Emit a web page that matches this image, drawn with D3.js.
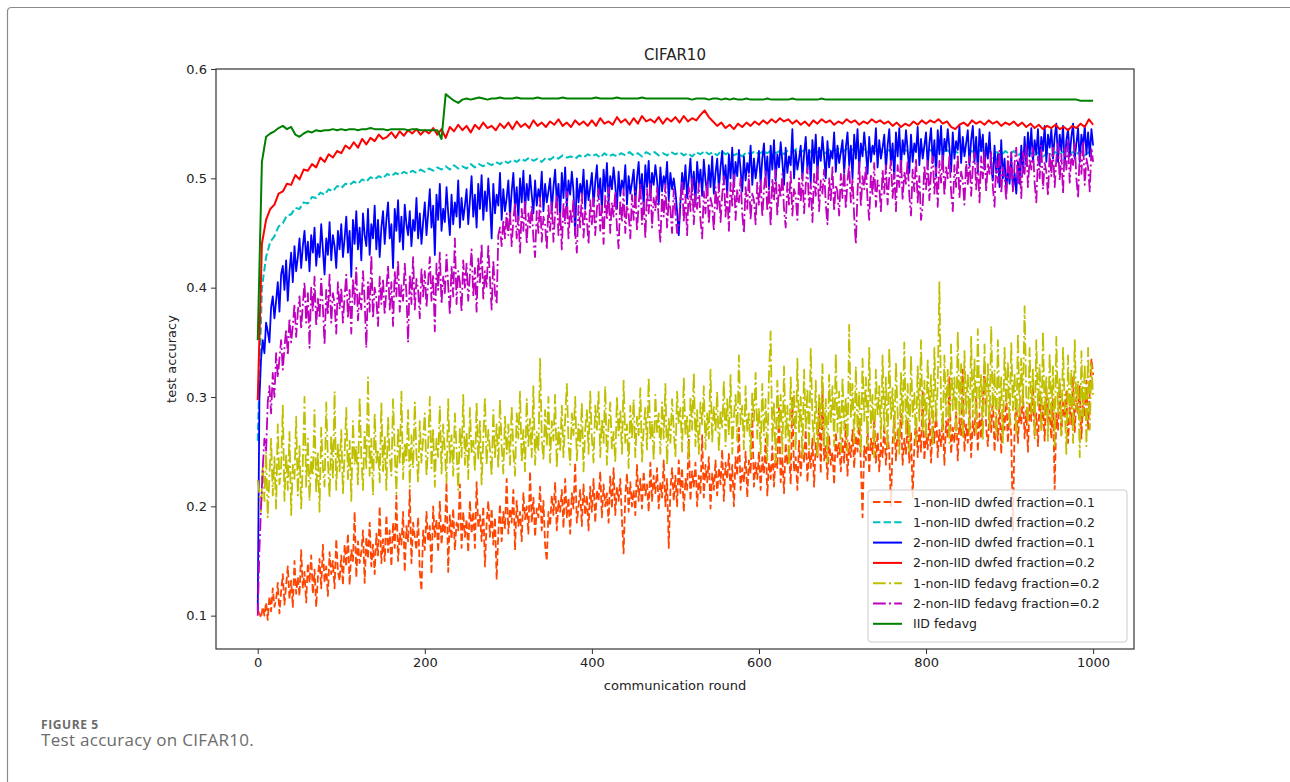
<!DOCTYPE html>
<meta charset="utf-8">
<style>
body {
  margin: 0;
  background: #fff;
}
svg text {
  font-family: "DejaVu Sans", sans-serif;
  fill: #222;
}
.caption text {
  font-family: "Open Sans", Lato, sans-serif;
  fill: #6b6b6b;
}
</style>
<body>
<script src="https://d3js.org/d3.v7.min.js"></script>
<script>
// noisy runs are read every 2 rounds, smooth ones every 5 rounds (0..1000)
var roundsFine = d3.range(0, 1001, 2);
var roundsCoarse = d3.range(0, 1001, 5);

var xTicks = [0, 200, 400, 600, 800, 1000];
var yTicks = [0.1, 0.2, 0.3, 0.4, 0.5, 0.6];

var labels = [
  "1-non-IID dwfed fraction=0.1",
  "1-non-IID dwfed fraction=0.2",
  "2-non-IID dwfed fraction=0.1",
  "2-non-IID dwfed fraction=0.2",
  "1-non-IID fedavg fraction=0.2",
  "2-non-IID fedavg fraction=0.2",
  "IID fedavg"
];
var colors = ["#ff4500", "#00bfbf", "#0000ff", "#ff0000", "#bfbf00", "#bf00bf", "#008000"];
var dashes = ["7.4,3.2", "7.4,3.2", null, null, "12.8,3.2,2,3.2", "12.8,3.2,2,3.2", null];

// every 2 rounds
var dwfed1_01 = [
  0.105, 0.102, 0.098, 0.108, 0.100, 0.112, 0.096, 0.118, 0.104, 0.125, 0.108, 0.115, 0.130, 0.102, 0.122, 0.138, 0.110, 0.128, 0.145, 0.115, 0.132, 0.108, 0.150, 0.120, 0.135,
  0.118, 0.160, 0.125, 0.140, 0.112, 0.148, 0.130, 0.155, 0.120, 0.142, 0.108, 0.135, 0.152, 0.125, 0.165, 0.130, 0.145, 0.118, 0.158, 0.138, 0.150, 0.125, 0.170, 0.140, 0.132,
  0.155, 0.128, 0.165, 0.145, 0.175, 0.128, 0.160, 0.150, 0.195, 0.135, 0.168, 0.148, 0.158, 0.178, 0.130, 0.172, 0.152, 0.185, 0.145, 0.165, 0.138, 0.175, 0.155, 0.200, 0.148,
  0.170, 0.150, 0.192, 0.158, 0.178, 0.145, 0.185, 0.162, 0.210, 0.150, 0.175, 0.165, 0.195, 0.140, 0.182, 0.168, 0.215, 0.148, 0.185, 0.172, 0.160, 0.190, 0.140, 0.123, 0.178,
  0.160, 0.195, 0.168, 0.182, 0.138, 0.200, 0.172, 0.188, 0.158, 0.205, 0.165, 0.185, 0.175, 0.222, 0.140, 0.192, 0.170, 0.198, 0.160, 0.185, 0.178, 0.220, 0.162, 0.195, 0.172,
  0.188, 0.158, 0.205, 0.175, 0.195, 0.162, 0.222, 0.180, 0.192, 0.168, 0.200, 0.145, 0.185, 0.205, 0.172, 0.198, 0.165, 0.190, 0.133, 0.175, 0.202, 0.168, 0.195, 0.180, 0.225,
  0.175, 0.198, 0.185, 0.215, 0.160, 0.205, 0.182, 0.195, 0.168, 0.212, 0.188, 0.200, 0.175, 0.232, 0.185, 0.208, 0.172, 0.198, 0.190, 0.218, 0.178, 0.205, 0.165, 0.150, 0.195,
  0.182, 0.210, 0.192, 0.222, 0.178, 0.205, 0.195, 0.215, 0.180, 0.225, 0.190, 0.208, 0.175, 0.212, 0.198, 0.240, 0.185, 0.200, 0.215, 0.182, 0.220, 0.192, 0.210, 0.178, 0.218,
  0.195, 0.225, 0.185, 0.215, 0.205, 0.232, 0.190, 0.220, 0.200, 0.212, 0.185, 0.228, 0.198, 0.235, 0.192, 0.218, 0.205, 0.225, 0.188, 0.157, 0.210, 0.230, 0.195, 0.222, 0.200,
  0.215, 0.192, 0.238, 0.205, 0.225, 0.198, 0.232, 0.210, 0.220, 0.195, 0.240, 0.205, 0.228, 0.212, 0.235, 0.198, 0.222, 0.208, 0.242, 0.200, 0.225, 0.162, 0.215, 0.235, 0.205,
  0.228, 0.200, 0.242, 0.212, 0.235, 0.195, 0.225, 0.215, 0.262, 0.205, 0.232, 0.218, 0.240, 0.200, 0.228, 0.212, 0.265, 0.208, 0.238, 0.222, 0.245, 0.198, 0.230, 0.215, 0.242,
  0.210, 0.235, 0.220, 0.252, 0.205, 0.240, 0.225, 0.248, 0.212, 0.238, 0.200, 0.245, 0.228, 0.272, 0.215, 0.235, 0.222, 0.250, 0.208, 0.242, 0.230, 0.285, 0.218, 0.240, 0.225,
  0.250, 0.215, 0.245, 0.230, 0.262, 0.210, 0.240, 0.225, 0.255, 0.218, 0.248, 0.235, 0.290, 0.222, 0.245, 0.212, 0.258, 0.238, 0.252, 0.220, 0.300, 0.232, 0.245, 0.215, 0.260,
  0.228, 0.255, 0.240, 0.270, 0.222, 0.250, 0.235, 0.262, 0.218, 0.258, 0.245, 0.295, 0.230, 0.310, 0.242, 0.255, 0.225, 0.265, 0.238, 0.250, 0.220, 0.268, 0.245, 0.258, 0.232,
  0.262, 0.240, 0.275, 0.228, 0.258, 0.245, 0.270, 0.235, 0.265, 0.250, 0.278, 0.238, 0.190, 0.255, 0.242, 0.272, 0.230, 0.262, 0.248, 0.280, 0.240, 0.268, 0.232, 0.258, 0.245,
  0.275, 0.238, 0.265, 0.250, 0.200, 0.258, 0.282, 0.242, 0.270, 0.255, 0.285, 0.238, 0.262, 0.248, 0.278, 0.240, 0.268, 0.208, 0.255, 0.282, 0.245, 0.272, 0.250, 0.305, 0.242,
  0.268, 0.252, 0.285, 0.240, 0.275, 0.258, 0.290, 0.245, 0.270, 0.255, 0.282, 0.238, 0.278, 0.262, 0.318, 0.248, 0.272, 0.258, 0.288, 0.242, 0.280, 0.265, 0.325, 0.250, 0.275,
  0.258, 0.290, 0.245, 0.278, 0.265, 0.300, 0.250, 0.285, 0.262, 0.295, 0.330, 0.272, 0.255, 0.288, 0.268, 0.302, 0.250, 0.282, 0.260, 0.295, 0.248, 0.285, 0.270, 0.305, 0.258,
  0.285, 0.265, 0.178, 0.272, 0.298, 0.258, 0.290, 0.275, 0.305, 0.262, 0.288, 0.250, 0.295, 0.278, 0.310, 0.265, 0.285, 0.255, 0.300, 0.272, 0.292, 0.260, 0.308, 0.275, 0.288,
  0.262, 0.298, 0.215, 0.285, 0.270, 0.312, 0.265, 0.295, 0.280, 0.305, 0.258, 0.292, 0.275, 0.318, 0.268, 0.300, 0.285, 0.310, 0.262, 0.298, 0.282, 0.315, 0.270, 0.305, 0.335,
  0.320
];

// every 5 rounds
var dwfed1_02 = [
  0.260, 0.400, 0.428, 0.442, 0.447, 0.456, 0.459, 0.466, 0.467, 0.473, 0.472, 0.478, 0.477, 0.483, 0.482, 0.487, 0.485, 0.490, 0.488, 0.493,
  0.491, 0.495, 0.494, 0.497, 0.495, 0.499, 0.497, 0.501, 0.499, 0.502, 0.500, 0.504, 0.502, 0.505, 0.503, 0.506, 0.504, 0.507, 0.505, 0.508,
  0.506, 0.509, 0.507, 0.510, 0.508, 0.511, 0.508, 0.512, 0.509, 0.511, 0.509, 0.513, 0.510, 0.513, 0.511, 0.514, 0.512, 0.515, 0.513, 0.516,
  0.514, 0.517, 0.515, 0.518, 0.516, 0.519, 0.516, 0.518, 0.515, 0.519, 0.517, 0.520, 0.518, 0.521, 0.519, 0.520, 0.518, 0.521, 0.519, 0.522,
  0.520, 0.522, 0.519, 0.523, 0.520, 0.522, 0.520, 0.523, 0.521, 0.524, 0.521, 0.523, 0.520, 0.524, 0.522, 0.524, 0.521, 0.523, 0.521, 0.524,
  0.522, 0.524, 0.521, 0.523, 0.520, 0.524, 0.522, 0.525, 0.522, 0.524, 0.521, 0.525, 0.522, 0.524, 0.521, 0.523, 0.520, 0.524, 0.522, 0.525,
  0.522, 0.525, 0.523, 0.526, 0.523, 0.525, 0.522, 0.526, 0.524, 0.527, 0.524, 0.526, 0.523, 0.527, 0.524, 0.526, 0.523, 0.527, 0.525, 0.527,
  0.524, 0.527, 0.525, 0.528, 0.525, 0.527, 0.524, 0.528, 0.525, 0.527, 0.524, 0.526, 0.523, 0.527, 0.524, 0.526, 0.523, 0.526, 0.524, 0.527,
  0.524, 0.526, 0.523, 0.527, 0.524, 0.526, 0.523, 0.525, 0.522, 0.526, 0.523, 0.525, 0.522, 0.526, 0.523, 0.525, 0.522, 0.524, 0.521, 0.525,
  0.522, 0.525, 0.521, 0.524, 0.520, 0.523, 0.521, 0.524, 0.520, 0.523, 0.521, 0.524, 0.522, 0.525, 0.521, 0.524, 0.522, 0.525, 0.521, 0.524,
  0.523
];

// every 2 rounds
var dwfed2_01 = [
  0.105, 0.298, 0.335, 0.352, 0.340, 0.368, 0.360, 0.350, 0.382, 0.392, 0.372, 0.388, 0.405, 0.378, 0.412, 0.420, 0.398, 0.425, 0.388, 0.415, 0.432, 0.405, 0.438, 0.415, 0.428,
  0.445, 0.418, 0.438, 0.452, 0.425, 0.442, 0.415, 0.448, 0.432, 0.455, 0.420, 0.440, 0.428, 0.458, 0.435, 0.412, 0.445, 0.430, 0.460, 0.425, 0.448, 0.438, 0.418, 0.452, 0.435,
  0.458, 0.428, 0.445, 0.465, 0.432, 0.452, 0.410, 0.462, 0.440, 0.470, 0.435, 0.455, 0.425, 0.468, 0.448, 0.438, 0.472, 0.430, 0.458, 0.445, 0.475, 0.435, 0.462, 0.428, 0.455,
  0.470, 0.440, 0.462, 0.478, 0.445, 0.458, 0.418, 0.472, 0.452, 0.480, 0.442, 0.465, 0.435, 0.476, 0.458, 0.448, 0.470, 0.438, 0.462, 0.452, 0.482, 0.445, 0.468, 0.440, 0.460,
  0.478, 0.448, 0.468, 0.490, 0.455, 0.475, 0.430, 0.485, 0.462, 0.495, 0.452, 0.472, 0.460, 0.492, 0.468, 0.448, 0.485, 0.458, 0.478, 0.465, 0.498, 0.455, 0.482, 0.462, 0.475,
  0.490, 0.458, 0.480, 0.502, 0.465, 0.485, 0.455, 0.495, 0.472, 0.503, 0.462, 0.488, 0.470, 0.500, 0.478, 0.445, 0.495, 0.468, 0.485, 0.475, 0.505, 0.462, 0.490, 0.470, 0.482,
  0.498, 0.465, 0.488, 0.505, 0.472, 0.492, 0.462, 0.500, 0.478, 0.507, 0.470, 0.495, 0.480, 0.503, 0.485, 0.468, 0.498, 0.475, 0.490, 0.482, 0.506, 0.470, 0.495, 0.478, 0.488,
  0.500, 0.470, 0.492, 0.508, 0.478, 0.495, 0.465, 0.505, 0.482, 0.510, 0.474, 0.498, 0.485, 0.506, 0.488, 0.448, 0.500, 0.478, 0.495, 0.485, 0.508, 0.472, 0.498, 0.480, 0.492,
  0.505, 0.475, 0.496, 0.512, 0.482, 0.500, 0.470, 0.508, 0.488, 0.514, 0.478, 0.502, 0.490, 0.510, 0.494, 0.472, 0.506, 0.484, 0.498, 0.490, 0.512, 0.476, 0.502, 0.486, 0.496,
  0.508, 0.478, 0.500, 0.515, 0.486, 0.504, 0.474, 0.512, 0.492, 0.516, 0.482, 0.505, 0.494, 0.512, 0.498, 0.476, 0.510, 0.488, 0.502, 0.494, 0.515, 0.480, 0.505, 0.490, 0.500,
  0.488, 0.470, 0.448, 0.478, 0.505, 0.490, 0.512, 0.482, 0.500, 0.518, 0.488, 0.506, 0.478, 0.515, 0.495, 0.508, 0.484, 0.517, 0.498, 0.485, 0.512, 0.492, 0.520, 0.486, 0.505,
  0.518, 0.490, 0.510, 0.525, 0.495, 0.512, 0.485, 0.522, 0.500, 0.528, 0.492, 0.515, 0.502, 0.526, 0.508, 0.488, 0.520, 0.498, 0.514, 0.505, 0.530, 0.494, 0.518, 0.500, 0.512,
  0.525, 0.495, 0.518, 0.532, 0.502, 0.520, 0.490, 0.530, 0.508, 0.535, 0.498, 0.522, 0.510, 0.533, 0.515, 0.494, 0.528, 0.505, 0.520, 0.512, 0.545, 0.500, 0.525, 0.508, 0.518,
  0.530, 0.500, 0.522, 0.538, 0.508, 0.526, 0.496, 0.535, 0.514, 0.540, 0.504, 0.528, 0.516, 0.538, 0.520, 0.500, 0.534, 0.510, 0.525, 0.518, 0.542, 0.506, 0.530, 0.514, 0.524,
  0.535, 0.505, 0.528, 0.542, 0.512, 0.530, 0.500, 0.540, 0.518, 0.545, 0.508, 0.532, 0.520, 0.542, 0.525, 0.504, 0.538, 0.515, 0.530, 0.522, 0.546, 0.510, 0.535, 0.518, 0.528,
  0.540, 0.508, 0.530, 0.545, 0.512, 0.532, 0.500, 0.542, 0.520, 0.546, 0.510, 0.535, 0.522, 0.544, 0.526, 0.505, 0.540, 0.515, 0.532, 0.524, 0.547, 0.512, 0.536, 0.518, 0.530,
  0.542, 0.510, 0.532, 0.546, 0.514, 0.535, 0.502, 0.544, 0.522, 0.548, 0.512, 0.536, 0.525, 0.545, 0.528, 0.506, 0.542, 0.518, 0.534, 0.526, 0.548, 0.514, 0.538, 0.520, 0.532,
  0.544, 0.512, 0.535, 0.548, 0.515, 0.538, 0.505, 0.545, 0.525, 0.540, 0.508, 0.532, 0.518, 0.542, 0.510, 0.498, 0.530, 0.505, 0.522, 0.492, 0.535, 0.500, 0.518, 0.488, 0.510,
  0.495, 0.520, 0.490, 0.505, 0.486, 0.515, 0.495, 0.530, 0.505, 0.538, 0.512, 0.542, 0.520, 0.546, 0.515, 0.535, 0.522, 0.545, 0.512, 0.538, 0.525, 0.548, 0.515, 0.540, 0.528,
  0.545, 0.518, 0.538, 0.550, 0.515, 0.540, 0.525, 0.548, 0.512, 0.535, 0.545, 0.520, 0.538, 0.550, 0.518, 0.532, 0.546, 0.515, 0.540, 0.528, 0.548, 0.522, 0.542, 0.520, 0.545,
  0.530
];

// every 5 rounds
var dwfed2_02 = [
  0.297, 0.440, 0.462, 0.472, 0.476, 0.486, 0.488, 0.495, 0.494, 0.503, 0.499, 0.508, 0.507, 0.513, 0.510, 0.519, 0.515, 0.522, 0.519, 0.525,
  0.523, 0.530, 0.527, 0.533, 0.528, 0.536, 0.531, 0.537, 0.534, 0.540, 0.536, 0.538, 0.542, 0.537, 0.543, 0.539, 0.544, 0.541, 0.545, 0.540,
  0.544, 0.541, 0.546, 0.540, 0.545, 0.537, 0.547, 0.543, 0.549, 0.544, 0.548, 0.542, 0.549, 0.545, 0.551, 0.546, 0.548, 0.544, 0.550, 0.546,
  0.551, 0.545, 0.552, 0.547, 0.550, 0.546, 0.553, 0.548, 0.551, 0.547, 0.552, 0.549, 0.554, 0.548, 0.551, 0.547, 0.553, 0.549, 0.552, 0.548,
  0.553, 0.548, 0.555, 0.550, 0.552, 0.549, 0.556, 0.551, 0.554, 0.549, 0.555, 0.550, 0.557, 0.552, 0.554, 0.551, 0.556, 0.550, 0.555, 0.552,
  0.556, 0.551, 0.557, 0.552, 0.555, 0.553, 0.558, 0.562, 0.556, 0.552, 0.548, 0.551, 0.546, 0.549, 0.545, 0.550, 0.547, 0.551, 0.548, 0.552,
  0.549, 0.553, 0.550, 0.554, 0.551, 0.555, 0.552, 0.554, 0.550, 0.553, 0.549, 0.552, 0.548, 0.553, 0.550, 0.554, 0.551, 0.553, 0.549, 0.552,
  0.550, 0.554, 0.551, 0.553, 0.549, 0.552, 0.550, 0.554, 0.551, 0.553, 0.550, 0.552, 0.548, 0.551, 0.547, 0.550, 0.548, 0.552, 0.549, 0.553,
  0.550, 0.553, 0.551, 0.554, 0.550, 0.552, 0.547, 0.545, 0.549, 0.551, 0.548, 0.553, 0.550, 0.552, 0.549, 0.553, 0.550, 0.552, 0.548, 0.551,
  0.549, 0.552, 0.548, 0.551, 0.547, 0.550, 0.546, 0.549, 0.545, 0.548, 0.546, 0.549, 0.545, 0.547, 0.544, 0.548, 0.546, 0.550, 0.547, 0.554,
  0.549
];

// every 2 rounds
var fedavg1_02 = [
  0.224, 0.212, 0.195, 0.238, 0.205, 0.250, 0.190, 0.228, 0.262, 0.210, 0.245, 0.198, 0.275, 0.220, 0.235, 0.292, 0.205, 0.248, 0.215, 0.268, 0.192, 0.238, 0.225, 0.282, 0.210,
  0.255, 0.198, 0.240, 0.300, 0.218, 0.262, 0.205, 0.245, 0.228, 0.288, 0.212, 0.250, 0.195, 0.272, 0.235, 0.218, 0.295, 0.242, 0.208, 0.265, 0.225, 0.305, 0.215, 0.258, 0.232,
  0.270, 0.212, 0.248, 0.290, 0.225, 0.260, 0.205, 0.278, 0.238, 0.255, 0.220, 0.300, 0.245, 0.215, 0.268, 0.235, 0.318, 0.228, 0.262, 0.210, 0.285, 0.240, 0.252, 0.222, 0.295,
  0.232, 0.265, 0.215, 0.282, 0.245, 0.228, 0.298, 0.250, 0.212, 0.272, 0.238, 0.305, 0.225, 0.258, 0.242, 0.288, 0.218, 0.265, 0.235, 0.295, 0.248, 0.222, 0.278, 0.240, 0.262,
  0.285, 0.228, 0.255, 0.300, 0.235, 0.270, 0.218, 0.262, 0.245, 0.292, 0.230, 0.275, 0.250, 0.222, 0.298, 0.240, 0.265, 0.228, 0.285, 0.252, 0.215, 0.272, 0.245, 0.302, 0.238,
  0.268, 0.225, 0.290, 0.248, 0.260, 0.232, 0.295, 0.242, 0.278, 0.220, 0.262, 0.300, 0.238, 0.270, 0.252, 0.228, 0.288, 0.245, 0.275, 0.235, 0.298, 0.255, 0.230, 0.282, 0.248,
  0.275, 0.238, 0.292, 0.250, 0.228, 0.285, 0.262, 0.305, 0.240, 0.270, 0.232, 0.298, 0.255, 0.280, 0.245, 0.310, 0.238, 0.268, 0.250, 0.335, 0.262, 0.242, 0.288, 0.255, 0.300,
  0.240, 0.278, 0.260, 0.302, 0.235, 0.272, 0.250, 0.292, 0.245, 0.280, 0.312, 0.258, 0.238, 0.285, 0.265, 0.300, 0.242, 0.275, 0.255, 0.295, 0.232, 0.270, 0.288, 0.248, 0.305,
  0.262, 0.240, 0.292, 0.270, 0.305, 0.245, 0.280, 0.258, 0.310, 0.238, 0.275, 0.295, 0.252, 0.268, 0.240, 0.300, 0.265, 0.288, 0.248, 0.315, 0.258, 0.275, 0.235, 0.292, 0.262,
  0.298, 0.245, 0.282, 0.265, 0.308, 0.240, 0.272, 0.290, 0.252, 0.318, 0.260, 0.278, 0.242, 0.302, 0.268, 0.285, 0.248, 0.295, 0.262, 0.312, 0.238, 0.280, 0.258, 0.298, 0.270,
  0.245, 0.305, 0.275, 0.290, 0.250, 0.318, 0.265, 0.282, 0.242, 0.300, 0.270, 0.322, 0.255, 0.288, 0.248, 0.295, 0.275, 0.310, 0.252, 0.285, 0.262, 0.325, 0.258, 0.292, 0.268,
  0.305, 0.250, 0.288, 0.272, 0.315, 0.255, 0.298, 0.265, 0.320, 0.248, 0.282, 0.302, 0.260, 0.338, 0.275, 0.292, 0.252, 0.310, 0.268, 0.285, 0.245, 0.305, 0.278, 0.322, 0.262,
  0.290, 0.248, 0.312, 0.265, 0.298, 0.242, 0.320, 0.360, 0.258, 0.295, 0.240, 0.315, 0.270, 0.302, 0.248, 0.328, 0.262, 0.292, 0.238, 0.318, 0.275, 0.305, 0.250, 0.335, 0.268,
  0.300, 0.245, 0.325, 0.270, 0.308, 0.252, 0.345, 0.280, 0.258, 0.315, 0.245, 0.302, 0.272, 0.330, 0.255, 0.298, 0.240, 0.320, 0.275, 0.310, 0.255, 0.340, 0.268, 0.305, 0.250,
  0.318, 0.270, 0.300, 0.250, 0.366, 0.280, 0.312, 0.258, 0.328, 0.268, 0.305, 0.248, 0.335, 0.278, 0.318, 0.255, 0.345, 0.272, 0.302, 0.245, 0.325, 0.282, 0.310, 0.262, 0.338,
  0.270, 0.318, 0.252, 0.345, 0.280, 0.308, 0.258, 0.332, 0.285, 0.248, 0.322, 0.275, 0.350, 0.265, 0.312, 0.250, 0.338, 0.282, 0.305, 0.258, 0.328, 0.278, 0.352, 0.268, 0.315,
  0.262, 0.335, 0.280, 0.320, 0.255, 0.345, 0.278, 0.310, 0.405, 0.290, 0.268, 0.338, 0.282, 0.325, 0.258, 0.348, 0.288, 0.318, 0.265, 0.360, 0.280, 0.330, 0.262, 0.342, 0.285,
  0.322, 0.265, 0.355, 0.282, 0.335, 0.268, 0.362, 0.290, 0.320, 0.260, 0.348, 0.282, 0.330, 0.272, 0.365, 0.288, 0.325, 0.265, 0.352, 0.285, 0.318, 0.258, 0.345, 0.292, 0.332,
  0.272, 0.350, 0.288, 0.322, 0.265, 0.358, 0.282, 0.335, 0.292, 0.383, 0.300, 0.275, 0.345, 0.285, 0.325, 0.262, 0.352, 0.290, 0.330, 0.268, 0.360, 0.282, 0.318, 0.260, 0.340,
  0.278, 0.328, 0.255, 0.355, 0.285, 0.318, 0.265, 0.345, 0.292, 0.248, 0.338, 0.278, 0.325, 0.258, 0.352, 0.288, 0.315, 0.245, 0.342, 0.282, 0.330, 0.255, 0.345, 0.270, 0.330,
  0.300
];

// every 2 rounds
var fedavg2_02 = [
  0.100, 0.160, 0.200, 0.235, 0.262, 0.250, 0.295, 0.310, 0.285, 0.322, 0.300, 0.340, 0.318, 0.335, 0.352, 0.325, 0.345, 0.362, 0.338, 0.372, 0.350, 0.365, 0.385, 0.355, 0.378,
  0.392, 0.362, 0.385, 0.405, 0.368, 0.395, 0.345, 0.400, 0.378, 0.410, 0.365, 0.390, 0.372, 0.408, 0.382, 0.348, 0.398, 0.375, 0.412, 0.368, 0.395, 0.385, 0.358, 0.405, 0.380,
  0.400, 0.368, 0.392, 0.412, 0.372, 0.398, 0.358, 0.408, 0.385, 0.418, 0.370, 0.395, 0.380, 0.415, 0.388, 0.345, 0.405, 0.378, 0.430, 0.372, 0.400, 0.390, 0.365, 0.410, 0.385,
  0.408, 0.375, 0.398, 0.420, 0.380, 0.405, 0.365, 0.415, 0.392, 0.425, 0.378, 0.402, 0.388, 0.422, 0.395, 0.350, 0.412, 0.385, 0.428, 0.380, 0.408, 0.398, 0.372, 0.418, 0.392,
  0.415, 0.382, 0.405, 0.428, 0.388, 0.412, 0.360, 0.422, 0.398, 0.432, 0.385, 0.410, 0.395, 0.430, 0.402, 0.375, 0.420, 0.392, 0.445, 0.385, 0.415, 0.405, 0.378, 0.425, 0.400,
  0.422, 0.388, 0.412, 0.435, 0.392, 0.418, 0.378, 0.428, 0.405, 0.440, 0.390, 0.415, 0.400, 0.438, 0.408, 0.380, 0.425, 0.395, 0.385, 0.448, 0.455, 0.438, 0.462, 0.445, 0.468,
  0.448, 0.470, 0.438, 0.462, 0.478, 0.445, 0.465, 0.432, 0.472, 0.452, 0.480, 0.440, 0.468, 0.455, 0.475, 0.445, 0.428, 0.470, 0.450, 0.482, 0.442, 0.465, 0.458, 0.435, 0.475,
  0.452, 0.478, 0.442, 0.468, 0.485, 0.448, 0.470, 0.435, 0.478, 0.458, 0.488, 0.445, 0.472, 0.460, 0.482, 0.450, 0.432, 0.475, 0.455, 0.486, 0.446, 0.470, 0.462, 0.440, 0.480,
  0.458, 0.482, 0.448, 0.472, 0.490, 0.452, 0.475, 0.440, 0.484, 0.462, 0.492, 0.450, 0.478, 0.465, 0.488, 0.455, 0.436, 0.480, 0.460, 0.490, 0.450, 0.475, 0.468, 0.445, 0.485,
  0.462, 0.488, 0.452, 0.476, 0.495, 0.458, 0.480, 0.445, 0.490, 0.468, 0.497, 0.455, 0.482, 0.470, 0.492, 0.460, 0.442, 0.485, 0.465, 0.495, 0.455, 0.480, 0.472, 0.450, 0.490,
  0.468, 0.450, 0.458, 0.480, 0.498, 0.460, 0.485, 0.448, 0.492, 0.470, 0.500, 0.458, 0.485, 0.472, 0.495, 0.462, 0.445, 0.488, 0.468, 0.498, 0.458, 0.482, 0.475, 0.452, 0.492,
  0.470, 0.495, 0.460, 0.485, 0.502, 0.465, 0.488, 0.452, 0.496, 0.475, 0.504, 0.462, 0.490, 0.478, 0.500, 0.468, 0.450, 0.492, 0.472, 0.503, 0.462, 0.486, 0.480, 0.458, 0.496,
  0.475, 0.500, 0.465, 0.490, 0.506, 0.470, 0.492, 0.456, 0.500, 0.480, 0.508, 0.466, 0.494, 0.482, 0.504, 0.472, 0.455, 0.496, 0.476, 0.506, 0.466, 0.490, 0.484, 0.462, 0.500,
  0.478, 0.504, 0.468, 0.494, 0.510, 0.474, 0.496, 0.460, 0.504, 0.484, 0.512, 0.470, 0.498, 0.486, 0.508, 0.476, 0.458, 0.500, 0.480, 0.510, 0.470, 0.494, 0.488, 0.466, 0.504,
  0.482, 0.508, 0.472, 0.498, 0.512, 0.478, 0.500, 0.465, 0.440, 0.488, 0.515, 0.474, 0.502, 0.490, 0.512, 0.480, 0.462, 0.504, 0.484, 0.514, 0.474, 0.498, 0.492, 0.470, 0.508,
  0.486, 0.512, 0.476, 0.502, 0.516, 0.482, 0.505, 0.470, 0.512, 0.492, 0.518, 0.480, 0.506, 0.495, 0.516, 0.484, 0.466, 0.508, 0.488, 0.518, 0.478, 0.502, 0.462, 0.474, 0.512,
  0.490, 0.516, 0.480, 0.506, 0.520, 0.486, 0.510, 0.474, 0.516, 0.496, 0.522, 0.484, 0.510, 0.500, 0.520, 0.488, 0.470, 0.512, 0.492, 0.522, 0.482, 0.506, 0.498, 0.476, 0.516,
  0.494, 0.520, 0.484, 0.510, 0.524, 0.490, 0.514, 0.478, 0.520, 0.500, 0.526, 0.488, 0.514, 0.504, 0.524, 0.492, 0.474, 0.516, 0.496, 0.526, 0.486, 0.510, 0.502, 0.480, 0.520,
  0.498, 0.524, 0.488, 0.514, 0.528, 0.494, 0.518, 0.482, 0.524, 0.504, 0.530, 0.492, 0.518, 0.508, 0.528, 0.496, 0.478, 0.520, 0.500, 0.530, 0.490, 0.514, 0.506, 0.484, 0.524,
  0.502, 0.528, 0.492, 0.518, 0.532, 0.498, 0.522, 0.486, 0.528, 0.508, 0.534, 0.496, 0.522, 0.512, 0.532, 0.500, 0.482, 0.524, 0.504, 0.534, 0.494, 0.518, 0.510, 0.488, 0.528,
  0.515
];

// every 5 rounds
var iidFedavg = [
  0.352, 0.515, 0.538, 0.541, 0.543, 0.546, 0.548, 0.545, 0.547, 0.540, 0.538, 0.541, 0.543, 0.542, 0.544, 0.543, 0.544, 0.544, 0.545, 0.544,
  0.545, 0.544, 0.545, 0.545, 0.544, 0.545, 0.545, 0.546, 0.545, 0.545, 0.545, 0.544, 0.545, 0.545, 0.545, 0.545, 0.544, 0.545, 0.545, 0.544,
  0.544, 0.544, 0.544, 0.544, 0.536, 0.577, 0.574, 0.571, 0.569, 0.572, 0.573, 0.572, 0.573, 0.574, 0.573, 0.572, 0.573, 0.573, 0.574, 0.573,
  0.573, 0.573, 0.574, 0.573, 0.573, 0.573, 0.573, 0.574, 0.573, 0.573, 0.573, 0.573, 0.573, 0.574, 0.573, 0.573, 0.573, 0.573, 0.573, 0.573,
  0.573, 0.574, 0.573, 0.573, 0.573, 0.573, 0.574, 0.573, 0.573, 0.573, 0.573, 0.573, 0.574, 0.573, 0.573, 0.573, 0.573, 0.573, 0.573, 0.573,
  0.573, 0.573, 0.573, 0.573, 0.572, 0.573, 0.573, 0.573, 0.572, 0.573, 0.573, 0.572, 0.573, 0.572, 0.573, 0.572, 0.572, 0.573, 0.572, 0.572,
  0.572, 0.572, 0.573, 0.572, 0.572, 0.572, 0.572, 0.572, 0.573, 0.572, 0.572, 0.572, 0.572, 0.572, 0.572, 0.573, 0.572, 0.572, 0.572, 0.572,
  0.572, 0.572, 0.572, 0.572, 0.572, 0.572, 0.572, 0.572, 0.572, 0.572, 0.572, 0.572, 0.572, 0.572, 0.572, 0.572, 0.572, 0.572, 0.572, 0.572,
  0.572, 0.572, 0.572, 0.572, 0.572, 0.572, 0.572, 0.572, 0.572, 0.572, 0.572, 0.572, 0.572, 0.572, 0.572, 0.572, 0.572, 0.572, 0.572, 0.572,
  0.572, 0.572, 0.572, 0.572, 0.572, 0.572, 0.572, 0.572, 0.572, 0.572, 0.572, 0.572, 0.572, 0.572, 0.572, 0.572, 0.572, 0.571, 0.571, 0.571,
  0.571
];

var seriesValues = [dwfed1_01, dwfed1_02, dwfed2_01, dwfed2_02, fedavg1_02, fedavg2_02, iidFedavg];
var seriesRounds = [roundsFine, roundsCoarse, roundsFine, roundsCoarse, roundsFine, roundsFine, roundsCoarse];

var W = 1290, H = 782;
var plotLeft = 216, plotRight = 1134, plotTop = 69, plotBottom = 649;

var svg = d3.select("body").append("svg")
    .attr("width", W)
    .attr("height", H);

// page frame (top + left edges only, as in the figure crop)
svg.append("path")
    .attr("d", "M7.5," + H + " V11.5 Q7.5,7.5 11.5,7.5 H" + W)
    .attr("fill", "none")
    .attr("stroke", "#8a8a8a")
    .attr("stroke-width", 1.2);

var x = d3.scaleLinear().domain([-49.95, 1048.95]).range([plotLeft, plotRight]);
var y = d3.scaleLinear().domain([0.0695, 0.6]).range([plotBottom, plotTop]);

svg.append("clipPath").attr("id", "plotclip")
  .append("rect")
    .attr("x", plotLeft).attr("y", plotTop)
    .attr("width", plotRight - plotLeft).attr("height", plotBottom - plotTop);

var plot = svg.append("g").attr("clip-path", "url(#plotclip)");
seriesValues.forEach(function(vals, k) {
  var xs = seriesRounds[k];
  var line = d3.line()
      .x(function(d, i) { return x(xs[i]); })
      .y(function(d) { return y(d); });
  plot.append("path")
      .datum(vals)
      .attr("d", line)
      .attr("fill", "none")
      .attr("stroke", colors[k])
      .attr("stroke-width", xs === roundsFine ? 1.8 : 2)
      .attr("stroke-linejoin", "round")
      .attr("stroke-dasharray", dashes[k]);
});

// axes
var xAxis = svg.append("g")
    .attr("transform", "translate(0," + plotBottom + ")")
    .call(d3.axisBottom(x).tickValues(xTicks).tickFormat(d3.format("d")).tickSize(5).tickPadding(4).tickSizeOuter(0));
var yAxis = svg.append("g")
    .attr("transform", "translate(" + plotLeft + ",0)")
    .call(d3.axisLeft(y).tickValues(yTicks).tickFormat(d3.format(".1f")).tickSize(5).tickPadding(4).tickSizeOuter(0));
[xAxis, yAxis].forEach(function(a) {
  a.select(".domain").remove();
  a.selectAll("line").attr("stroke", "#333");
  a.selectAll("text").attr("font-size", 13).attr("font-family", "DejaVu Sans").style("fill", "#222");
});

svg.append("rect")
    .attr("x", plotLeft).attr("y", plotTop)
    .attr("width", plotRight - plotLeft).attr("height", plotBottom - plotTop)
    .attr("fill", "none")
    .attr("stroke", "#333")
    .attr("stroke-width", 1.2);

svg.append("text")
    .attr("x", (plotLeft + plotRight) / 2).attr("y", 60)
    .attr("text-anchor", "middle")
    .attr("font-family", "DejaVu Sans")
    .attr("font-size", 15)
    .text("CIFAR10");

svg.append("text")
    .attr("x", (plotLeft + plotRight) / 2).attr("y", 690)
    .attr("text-anchor", "middle")
    .attr("font-family", "DejaVu Sans")
    .attr("font-size", 13)
    .text("communication round");

svg.append("text")
    .attr("transform", "translate(176," + (plotTop + plotBottom) / 2 + ") rotate(-90)")
    .attr("text-anchor", "middle")
    .attr("font-family", "DejaVu Sans")
    .attr("font-size", 13)
    .text("test accuracy");

// legend
var lg = svg.append("g").attr("transform", "translate(868,490)");
lg.append("rect")
    .attr("width", 259).attr("height", 152)
    .attr("rx", 3)
    .attr("fill", "#fff").attr("fill-opacity", 0.8)
    .attr("stroke", "#ccc");
labels.forEach(function(name, k) {
  var yy = 12 + k * 20.3;
  lg.append("line")
      .attr("x1", 5).attr("x2", 34)
      .attr("y1", yy).attr("y2", yy)
      .attr("stroke", colors[k])
      .attr("stroke-width", 2)
      .attr("stroke-dasharray", dashes[k]);
  lg.append("text")
      .attr("x", 45).attr("y", yy + 4.5)
      .attr("font-family", "DejaVu Sans")
      .attr("font-size", 12.5)
      .text(name);
});

// caption
var cap = svg.append("g").attr("class", "caption");
cap.append("text")
    .attr("x", 41).attr("y", 729)
    .attr("font-size", 12)
    .attr("font-weight", 700)
    .attr("letter-spacing", 0.6)
    .text("FIGURE 5");
cap.append("text")
    .attr("x", 41).attr("y", 746)
    .attr("font-size", 17)
    .attr("letter-spacing", 0.3)
    .text("Test accuracy on CIFAR10.");
</script>
